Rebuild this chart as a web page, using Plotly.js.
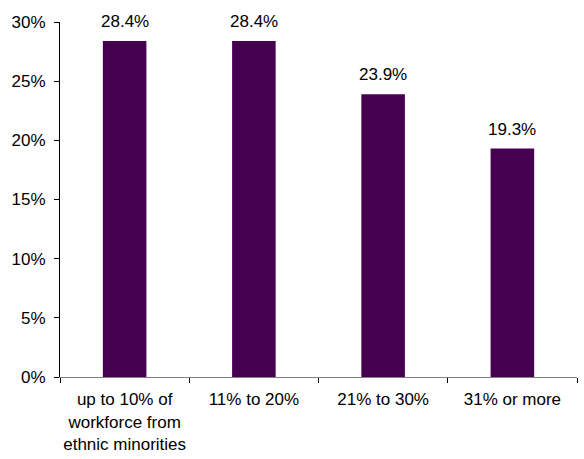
<!DOCTYPE html>
<html>
<head>
<meta charset="utf-8">
<script src="https://cdn.plot.ly/plotly-3.0.1.min.js"></script>
<style>html,body{margin:0;padding:0;background:#fff;}#chart{width:584px;height:459px;}</style>
</head>
<body>
<div id="chart"></div>
<script>
var categories = ["up to 10% of<br>workforce from<br>ethnic minorities", "11% to 20%", "21% to 30%", "31% or more"];
var values = [28.4, 28.4, 23.9, 19.3];
var valueLabels = ["28.4%", "28.4%", "23.9%", "19.3%"];
var yTickVals = [0, 5, 10, 15, 20, 25, 30];
var yTickText = ["0%", "5%", "10%", "15%", "20%", "25%", "30%"];

var font = {family: "Liberation Sans, Arial, sans-serif", size: 17, color: "#000"};

var trace = {
  type: "bar",
  x: categories,
  y: values,
  marker: {color: "#460050", line: {width: 0}},
  hoverinfo: "none"
};

var annotations = categories.map(function (c, i) {
  return {
    x: c, y: values[i], xref: "x", yref: "y",
    text: valueLabels[i], showarrow: false,
    yanchor: "bottom", yshift: 8,
    font: font
  };
});

var layout = {
  width: 584, height: 459,
  margin: {l: 60, r: 7, t: 22, b: 82, pad: 0},
  paper_bgcolor: "#fff", plot_bgcolor: "#fff",
  showlegend: false,
  bargap: 0.663,
  font: font,
  xaxis: {
    type: "category",
    range: [-0.5, 3.5],
    showline: true, linecolor: "#808080", linewidth: 1,
    ticks: "outside", tickson: "boundaries", ticklen: 5, tickcolor: "#000",
    tickangle: 0, automargin: false,
    ticklabelstandoff: 7,
    showgrid: false, zeroline: false,
    tickfont: font, fixedrange: true
  },
  yaxis: {
    range: [0, 30],
    tickvals: yTickVals, ticktext: yTickText,
    showline: true, linecolor: "#000", linewidth: 1,
    ticks: "outside", ticklen: 5, tickcolor: "#000",
    ticklabelstandoff: 5, automargin: false,
    showgrid: false, zeroline: false,
    tickfont: font, fixedrange: true
  },
  annotations: annotations
};

Plotly.newPlot("chart", [trace], layout, {displayModeBar: false, staticPlot: true});
</script>
</body>
</html>
